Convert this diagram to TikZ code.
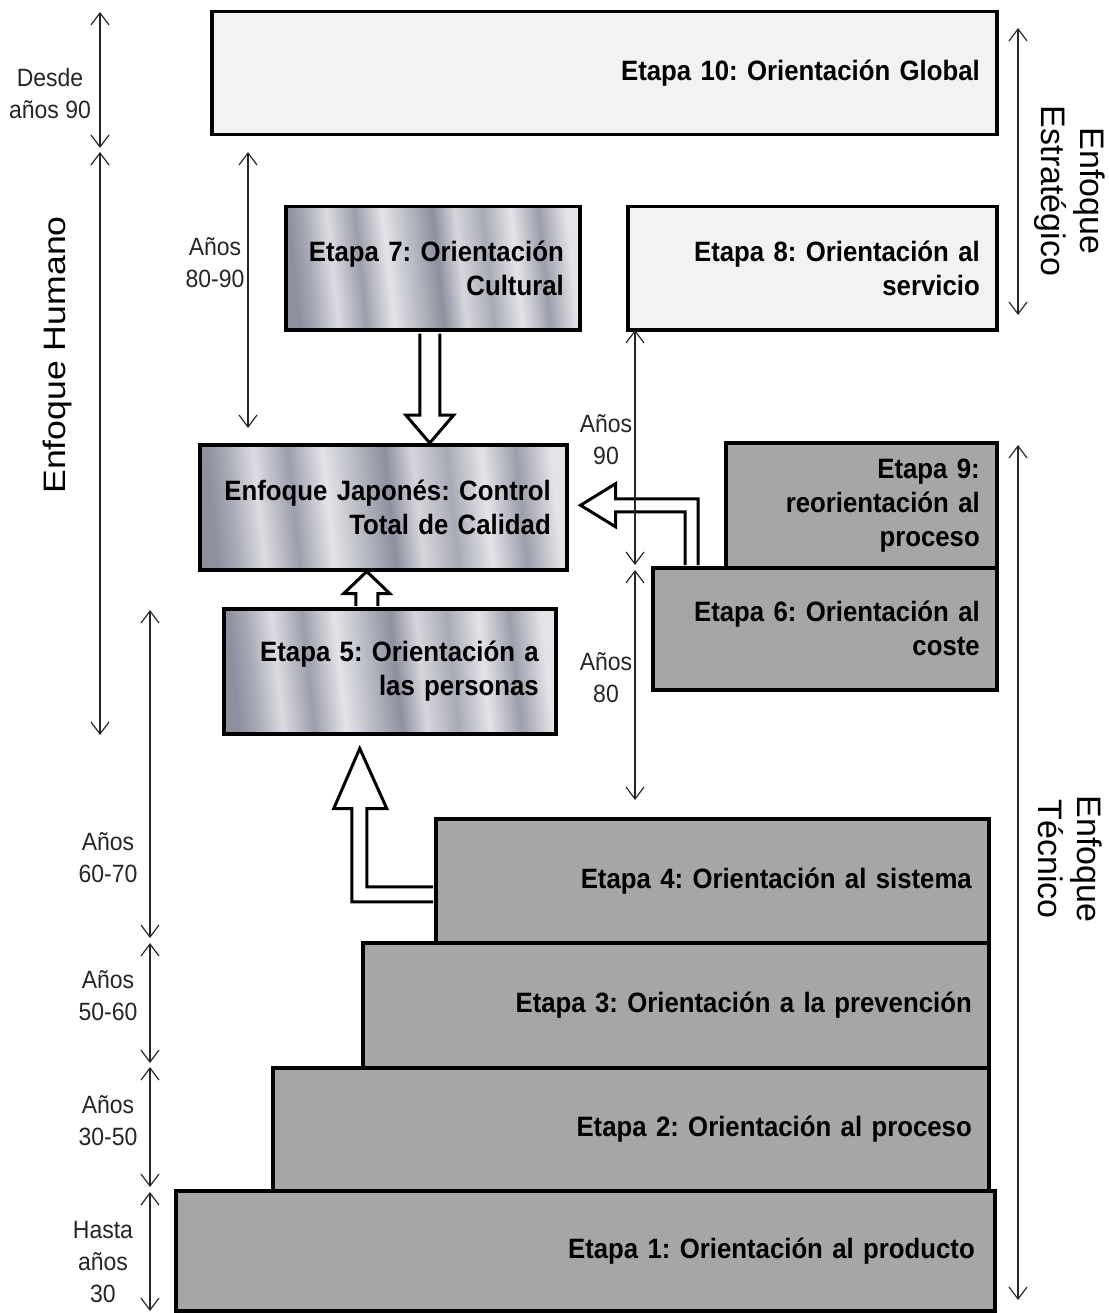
\documentclass[tikz,border=0pt]{standalone}
\usepackage{fontspec}
\setmainfont{Liberation Sans}
\newfontfamily\cfont[FakeStretch=0.92]{Liberation Sans}
\newfontfamily\wfont[FakeStretch=1.15]{Liberation Sans}
\usetikzlibrary{arrows.meta,calc}
\definecolor{lightbox}{HTML}{F2F2F2}
\definecolor{graybox}{HTML}{A6A6A6}
\definecolor{mA}{HTML}{8E90A0}
\definecolor{mB}{HTML}{A8AAB6}
\definecolor{mC}{HTML}{DCDCE2}
\definecolor{mD}{HTML}{9C9EAC}
\definecolor{mE}{HTML}{E4E4E8}
\definecolor{mF}{HTML}{B4B6C0}
\definecolor{mG}{HTML}{D6D6DC}
\definecolor{mH}{HTML}{C8C8D0}
\pgfdeclarehorizontalshading{metal}{100bp}{%
 color(0bp)=(mA); color(25bp)=(mA); color(28bp)=(mB); color(32bp)=(mC);
 color(37bp)=(mD); color(42bp)=(mE); color(47bp)=(mF); color(51bp)=(mA);
 color(55bp)=(mG); color(60bp)=(mB); color(65bp)=(mE); color(70bp)=(mD);
 color(73bp)=(mH); color(75bp)=(mE); color(100bp)=(mE)}
\begin{document}
\frenchspacing
\begin{tikzpicture}[x=1pt,y=-1pt,
  stagebox/.style={draw=black, line width=3.5pt, inner xsep=17pt, inner ysep=0pt,
    align=right, anchor=north west, text=black,
    font=\cfont\bfseries\fontsize{28}{34}\selectfont},
  lightfill/.style={stagebox, fill=lightbox},
  grayfill/.style={stagebox, fill=graybox},
  metalfill/.style={stagebox, shading=metal, shading angle=6},
  yearlabel/.style={align=center, inner sep=0pt, text=black!85,
    font=\cfont\fontsize{25}{32}\selectfont},
  sidelabel/.style={align=center, inner sep=0pt, text=black,
    font=\fontsize{34}{39}\selectfont},
  dimarrow/.style={line width=1.2pt, draw=black!85,
    {Straight Barb[length=12pt,width=18pt]}-{Straight Barb[length=12pt,width=18pt]}},
  blockarrow/.style={draw=black, fill=white, line width=3pt, line join=miter}]
\useasboundingbox (0,0) rectangle (1108,1313);

% boxes
\node[lightfill, minimum width=785pt, minimum height=123pt, text width=751pt] (e10) at (210,10) {Etapa 10: Orientación Global};
\node[lightfill, minimum width=369pt, minimum height=123pt, text width=335pt] (e8) at (626,205) {Etapa 8: Orientación al\\servicio};
\node[metalfill, minimum width=294pt, minimum height=123pt, text width=262pt, inner xsep=16pt] (e7) at (284,205) {Etapa 7: Orientación\\Cultural};
\node[metalfill, minimum width=367pt, minimum height=125pt, text width=335pt, inner xsep=16pt] (jap) at (198,443) {Enfoque Japonés: Control\\Total de Calidad};
\node[metalfill, minimum width=332pt, minimum height=125pt, text width=298pt] (e5) at (222,607) {Etapa 5: Orientación a\\las personas};
\node[grayfill, minimum width=271pt, minimum height=125pt, text width=237pt] (e9) at (724,441) {Etapa 9:\\reorientación al\\proceso};
\node[grayfill, minimum width=344pt, minimum height=122pt, text width=310pt] (e6) at (651,566) {Etapa 6: Orientación al\\coste};
\node[grayfill, minimum width=819pt, minimum height=120pt, text width=779pt, inner xsep=20pt] (e1) at (174,1189) {Etapa 1: Orientación al producto};
\node[grayfill, minimum width=716pt, minimum height=123pt, text width=682pt] (e2) at (271,1066) {Etapa 2: Orientación al proceso};
\node[grayfill, minimum width=626pt, minimum height=125pt, text width=592pt] (e3) at (361,941) {Etapa 3: Orientación a la prevención};
\node[grayfill, minimum width=553pt, minimum height=124pt, text width=519pt] (e4) at (434,817) {Etapa 4: Orientación al sistema};

% block arrows
\coordinate (p1) at ($(e7.south)+(-3,2)$);
\coordinate (q1) at (p1 |- jap.north);
\draw[blockarrow] ($(p1)+(-10,0)$) -- ($(q1)+(-10,-28)$) -- ($(q1)+(-24,-28)$) -- (q1)
  -- ($(q1)+(24,-28)$) -- ($(q1)+(10,-28)$) -- ($(p1)+(10,0)$);

\coordinate (p2) at ($(e5.north)+(-23,-1)$);
\coordinate (q2) at (p2 |- jap.south);
\draw[blockarrow] ($(p2)+(-11,0)$) -- ($(q2)+(-11,22)$) -- ($(q2)+(-23,22)$) -- (q2)
  -- ($(q2)+(23,22)$) -- ($(q2)+(11,22)$) -- ($(p2)+(11,0)$);

\coordinate (q3) at ($(e5.south)+(-30,13)$);
\coordinate (r3) at ($(e4.west)+(-1,6)$);
\coordinate (s3) at (q3 |- r3);
\draw[blockarrow] (r3) -- ($(s3)+(7,0)$) -- ($(q3)+(7,60)$) -- ($(q3)+(27,60)$) -- (q3)
  -- ($(q3)+(-26,60)$) -- ($(q3)+(-8,60)$) -- ($(s3)+(-8,15)$) -- ($(r3)+(0,15)$);

\coordinate (q4) at ($(jap.east)+(12,-2)$);
\coordinate (c4) at ($(e9.west |- q4)+(-26,0)$);
\coordinate (d4) at ($(c4 |- e6.north)+(0,-1)$);
\draw[blockarrow] (d4) -- ($(c4)+(0,-6.5)$) -- ($(q4)+(35,-6.5)$) -- ($(q4)+(35,-21.5)$) -- (q4)
  -- ($(q4)+(35,21.5)$) -- ($(q4)+(35,6.5)$) -- ($(c4)+(-13,6.5)$) -- ($(d4)+(-13,0)$);

% dimension arrows
\coordinate (a1t) at (100,12);   \coordinate (a1b) at (100,148);
\coordinate (a2t) at (100,152);  \coordinate (a2b) at (100,735);
\coordinate (a3t) at (248,152);  \coordinate (a3b) at (248,428);
\coordinate (a4t) at (635,330);  \coordinate (a4b) at (635,565);
\coordinate (a5t) at (635,570);  \coordinate (a5b) at (635,800);
\coordinate (a6t) at (150,610);  \coordinate (a6b) at (150,938);
\coordinate (a7t) at (150,943);  \coordinate (a7b) at (150,1063);
\coordinate (a8t) at (150,1067); \coordinate (a8b) at (150,1187);
\coordinate (a9t) at (150,1192); \coordinate (a9b) at (150,1311);
\coordinate (a10t) at (1018,28); \coordinate (a10b) at (1018,315);
\coordinate (a11t) at (1018,445);\coordinate (a11b) at (1018,1300);
\foreach \i in {1,...,11} {\draw[dimarrow] (a\i t) -- (a\i b);}

% year labels
\node[yearlabel] (lDesde) at (50,94) {Desde\\años 90};
\node[yearlabel] (l8090) at (215,263) {Años\\80-90};
\node[yearlabel] (l90) at (606,440) {Años\\90};
\node[yearlabel] (l80) at (606,678) {Años\\80};
\node[yearlabel] (l6070) at (108,858) {Años\\60-70};
\node[yearlabel] (l5060) at (108,996) {Años\\50-60};
\node[yearlabel] (l3050) at (108,1121) {Años\\30-50};
\node[yearlabel] (lHasta) at (103,1262) {Hasta\\años\\30};

% side labels
\node[sidelabel, rotate=90, font=\wfont\fontsize{31}{36}\selectfont] (lHum) at (57,355) {Enfoque Humano};
\node[sidelabel, rotate=-90] (lEst) at (1070,191) {Enfoque\\Estratégico};
\node[sidelabel, rotate=-90] (lTec) at (1070,859) {Enfoque\\Técnico};
\end{tikzpicture}
\end{document}
